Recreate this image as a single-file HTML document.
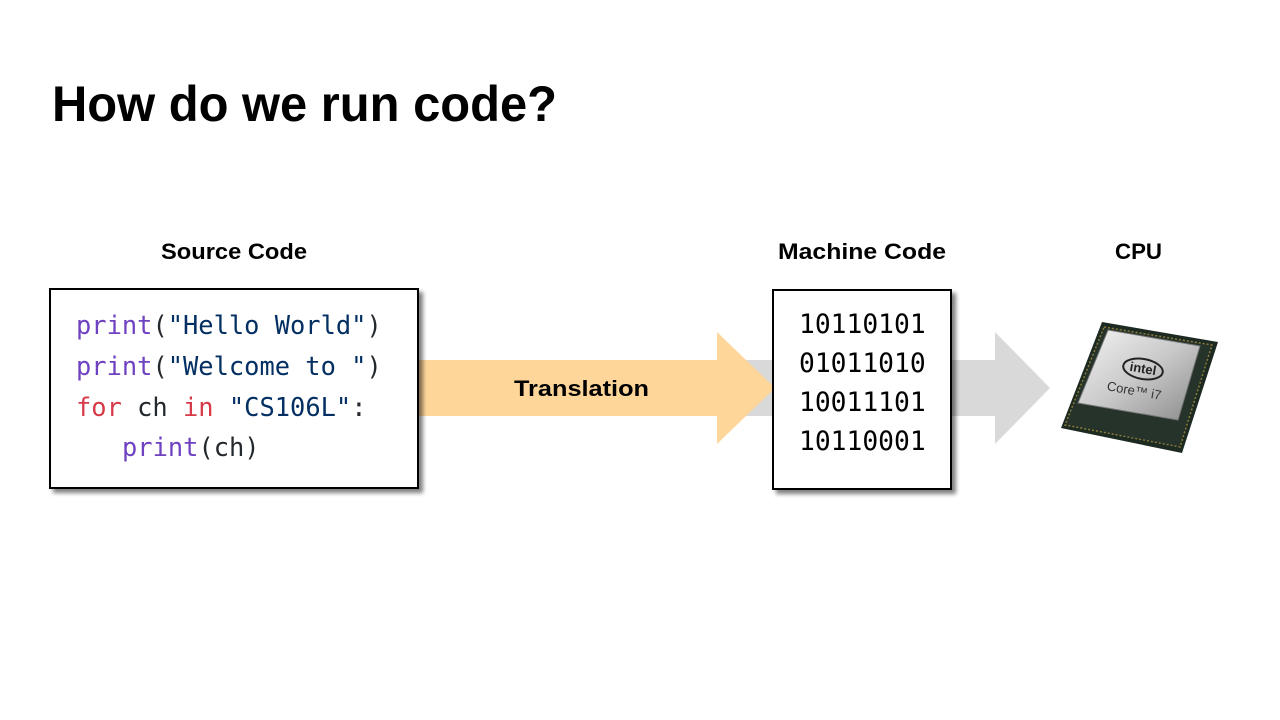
<!DOCTYPE html>
<html><head><meta charset="utf-8"><style>
html,body{margin:0;padding:0;background:#fff;}
body{width:1280px;height:720px;overflow:hidden;position:relative;font-family:"Liberation Sans",sans-serif;}
</style></head><body>
<svg width="1280" height="720" viewBox="0 0 1280 720" xmlns="http://www.w3.org/2000/svg" style="position:absolute;left:0;top:0">
<defs>
<filter id="sh" x="-10%" y="-10%" width="130%" height="130%"><feGaussianBlur in="SourceAlpha" stdDeviation="2"/><feOffset dx="4" dy="4"/><feComponentTransfer><feFuncA type="linear" slope="0.5"/></feComponentTransfer><feMerge><feMergeNode/><feMergeNode in="SourceGraphic"/></feMerge></filter>
<linearGradient id="lid" x1="0" y1="0" x2="1" y2="1"><stop offset="0" stop-color="#f4f4f4"/><stop offset="0.5" stop-color="#c9c9c9"/><stop offset="1" stop-color="#8a8a8a"/></linearGradient>
</defs>
<text x="52" y="121" font-family="Liberation Sans,sans-serif" font-weight="bold" font-size="50" textLength="505" lengthAdjust="spacingAndGlyphs">How do we run code?</text>
<g font-family="Liberation Sans,sans-serif" font-weight="bold" font-size="22">
<text x="161" y="259" textLength="146" lengthAdjust="spacingAndGlyphs">Source Code</text>
<text x="778" y="259" textLength="168" lengthAdjust="spacingAndGlyphs">Machine Code</text>
<text x="1115" y="259" textLength="47" lengthAdjust="spacingAndGlyphs">CPU</text>
</g>
<!-- gray arrow -->
<polygon points="700,360 995,360 995,332 1050,388 995,444 995,416 700,416" fill="#d9d9d9"/>
<!-- orange arrow -->
<polygon points="418,360 717,360 717,332 775,388 717,444 717,416 418,416" fill="#ffd699"/>
<text x="514" y="396" font-family="Liberation Sans,sans-serif" font-weight="bold" font-size="22" textLength="135" lengthAdjust="spacingAndGlyphs">Translation</text>
<!-- source code box -->
<rect x="50" y="289" width="368" height="199" fill="#fff" stroke="#000" stroke-width="2" filter="url(#sh)"/>
<g font-family="DejaVu Sans Mono,Liberation Mono,monospace" font-size="25.4">
<text x="76" y="334"><tspan fill="#6f42c1">print</tspan><tspan fill="#24292e">(</tspan><tspan fill="#032f62">"Hello World"</tspan><tspan fill="#24292e">)</tspan></text>
<text x="76" y="375"><tspan fill="#6f42c1">print</tspan><tspan fill="#24292e">(</tspan><tspan fill="#032f62">"Welcome to "</tspan><tspan fill="#24292e">)</tspan></text>
<text x="76" y="416" xml:space="preserve"><tspan fill="#d73a49">for</tspan><tspan fill="#24292e"> ch </tspan><tspan fill="#d73a49">in</tspan><tspan fill="#24292e"> </tspan><tspan fill="#032f62">"CS106L"</tspan><tspan fill="#24292e">:</tspan></text>
<text x="122" y="456"><tspan fill="#6f42c1">print</tspan><tspan fill="#24292e">(ch)</tspan></text>
</g>
<!-- machine code box -->
<rect x="773" y="290" width="178" height="199" fill="#fff" stroke="#000" stroke-width="2" filter="url(#sh)"/>
<g font-family="DejaVu Sans Mono,Liberation Mono,monospace" font-size="26.3" fill="#000">
<text x="799" y="333">10110101</text>
<text x="799" y="372">01011010</text>
<text x="799" y="411">10011101</text>
<text x="799" y="450">10110001</text>
</g>
<!-- CPU -->
<polygon points="1102,322 1218,342 1182,453 1061,428" fill="#1d2a22"/>
<polygon points="1104,327 1212,345 1180,447 1065,425" fill="#25332a" stroke="#8a7a3a" stroke-width="1.5" stroke-dasharray="2 2"/>
<polygon points="1108,330 1200,346 1178,420 1078,403" fill="url(#lid)" stroke="#777" stroke-width="1"/>
<ellipse cx="1143" cy="369" rx="20" ry="10" fill="none" stroke="#222" stroke-width="2" transform="rotate(10 1143 369)"/>
<text x="1143" y="373" font-family="Liberation Sans,sans-serif" font-size="13" font-weight="bold" fill="#222" text-anchor="middle" transform="rotate(10 1143 369)">intel</text>
<text x="1134" y="395" font-family="Liberation Sans,sans-serif" font-size="13" fill="#333" text-anchor="middle" transform="rotate(10 1134 392)">Core™ i7</text>
</svg>
</body></html>
